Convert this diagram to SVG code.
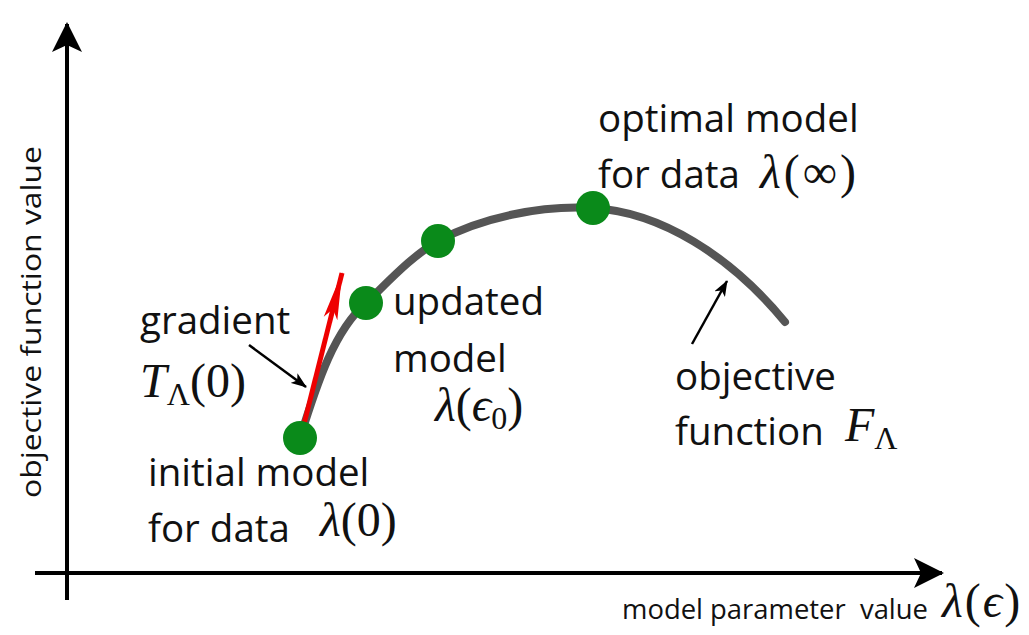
<svg xmlns="http://www.w3.org/2000/svg" width="1029" height="635" viewBox="0 0 1029 635">
<defs>
<style>
.lbl{font-family:"Open Sans","Liberation Sans",sans-serif;font-size:38.5px;fill:#111}
.ax{font-family:"Open Sans","Liberation Sans",sans-serif;font-size:28px;fill:#111}
.m{font-family:"Liberation Serif","DejaVu Serif",serif;font-size:48px;fill:#111}
.it{font-style:italic}
.dot{fill:#0a8a1a}
</style>
<marker id="ah" viewBox="0 0 16 12" refX="15" refY="6" markerWidth="16" markerHeight="12" orient="auto" markerUnits="userSpaceOnUse">
<path d="M0,0 L16,6 L0,12 L4,6 Z" fill="#000"/>
</marker>
<marker id="axh" viewBox="0 0 30 30" refX="28" refY="15" markerWidth="30" markerHeight="30" orient="auto" markerUnits="userSpaceOnUse">
<path d="M0,0 L30,15 L0,30 L7,15 Z" fill="#000"/>
</marker>
<marker id="rh" viewBox="0 0 48 16" refX="47" refY="8" markerWidth="48" markerHeight="16" orient="auto" markerUnits="userSpaceOnUse">
<path d="M0,1 L48,8 L0,15 L10,8 Z" fill="#e00"/>
</marker>
</defs>
<rect width="1029" height="635" fill="#fff"/>
<g id="axes" stroke="#000" stroke-width="4" fill="none">
<line x1="67" y1="600" x2="67" y2="24" marker-end="url(#axh)"/>
<line x1="35" y1="573" x2="942" y2="573" marker-end="url(#axh)"/>
</g>
<g id="curve">
<path d="M300,438 C318,380 335,330 366,303 C390,280 412,256 438,241 C480,218 540,205 593,208 C660,212 730,255 785,322" fill="none" stroke="#555" stroke-width="8" stroke-linecap="round"/>
</g>
<g id="connectors" fill="none">
<line x1="303" y1="428" x2="342" y2="273" stroke="#e00" stroke-width="5" marker-end="url(#rh)"/>
<line x1="249" y1="345" x2="306" y2="387" stroke="#000" stroke-width="2.5" marker-end="url(#ah)"/>
<line x1="692" y1="344" x2="727" y2="281" stroke="#000" stroke-width="2.5" marker-end="url(#ah)"/>
</g>
<g id="node-initial">
<circle class="dot" cx="300" cy="438" r="17"/>
<text class="lbl" x="148" y="486">initial model</text>
<text class="lbl" x="148" y="542">for data</text>
<text class="m" x="320" y="536" font-size="46"><tspan class="it">λ</tspan>(0)</text>
</g>
<g id="node-updated">
<circle class="dot" cx="366" cy="303" r="17"/>
<text class="lbl" x="393" y="315">updated</text>
<text class="lbl" x="393" y="372">model</text>
<text class="m" x="435" y="421"><tspan class="it">λ</tspan>(<tspan class="it">ϵ</tspan><tspan font-size="32" dy="8">0</tspan><tspan dy="-8">)</tspan></text>
</g>
<g id="node-mid">
<circle class="dot" cx="438" cy="241" r="17"/>
</g>
<g id="node-optimal">
<circle class="dot" cx="593" cy="208" r="17"/>
<text class="lbl" x="598" y="132">optimal model</text>
<text class="lbl" x="598" y="188">for data</text>
<text class="m" x="760" y="188" font-size="50" letter-spacing="3"><tspan class="it">λ</tspan>(∞)</text>
</g>
<g id="node-gradient">
<text class="lbl" x="140" y="334">gradient</text>
<text class="m" x="140" y="397"><tspan class="it">T</tspan><tspan font-size="32" dy="8">Λ</tspan><tspan dy="-8">(0)</tspan></text>
</g>
<g id="node-objective">
<text class="lbl" x="675" y="390">objective</text>
<text class="lbl" x="675" y="445">function</text>
<text class="m" x="845" y="441"><tspan class="it">F</tspan><tspan font-size="32" dy="8">Λ</tspan></text>
</g>
<g id="axis-labels">
<text class="ax" x="622" y="619" textLength="306" lengthAdjust="spacingAndGlyphs" xml:space="preserve">model parameter  value</text>
<text class="m" x="942" y="617" font-size="50" letter-spacing="2"><tspan class="it">λ</tspan>(<tspan class="it">ϵ</tspan>)</text>
<text class="ax" font-size="30" transform="translate(41,322) rotate(-90)" text-anchor="middle" textLength="352" lengthAdjust="spacingAndGlyphs">objective function value</text>
</g>
</svg>
